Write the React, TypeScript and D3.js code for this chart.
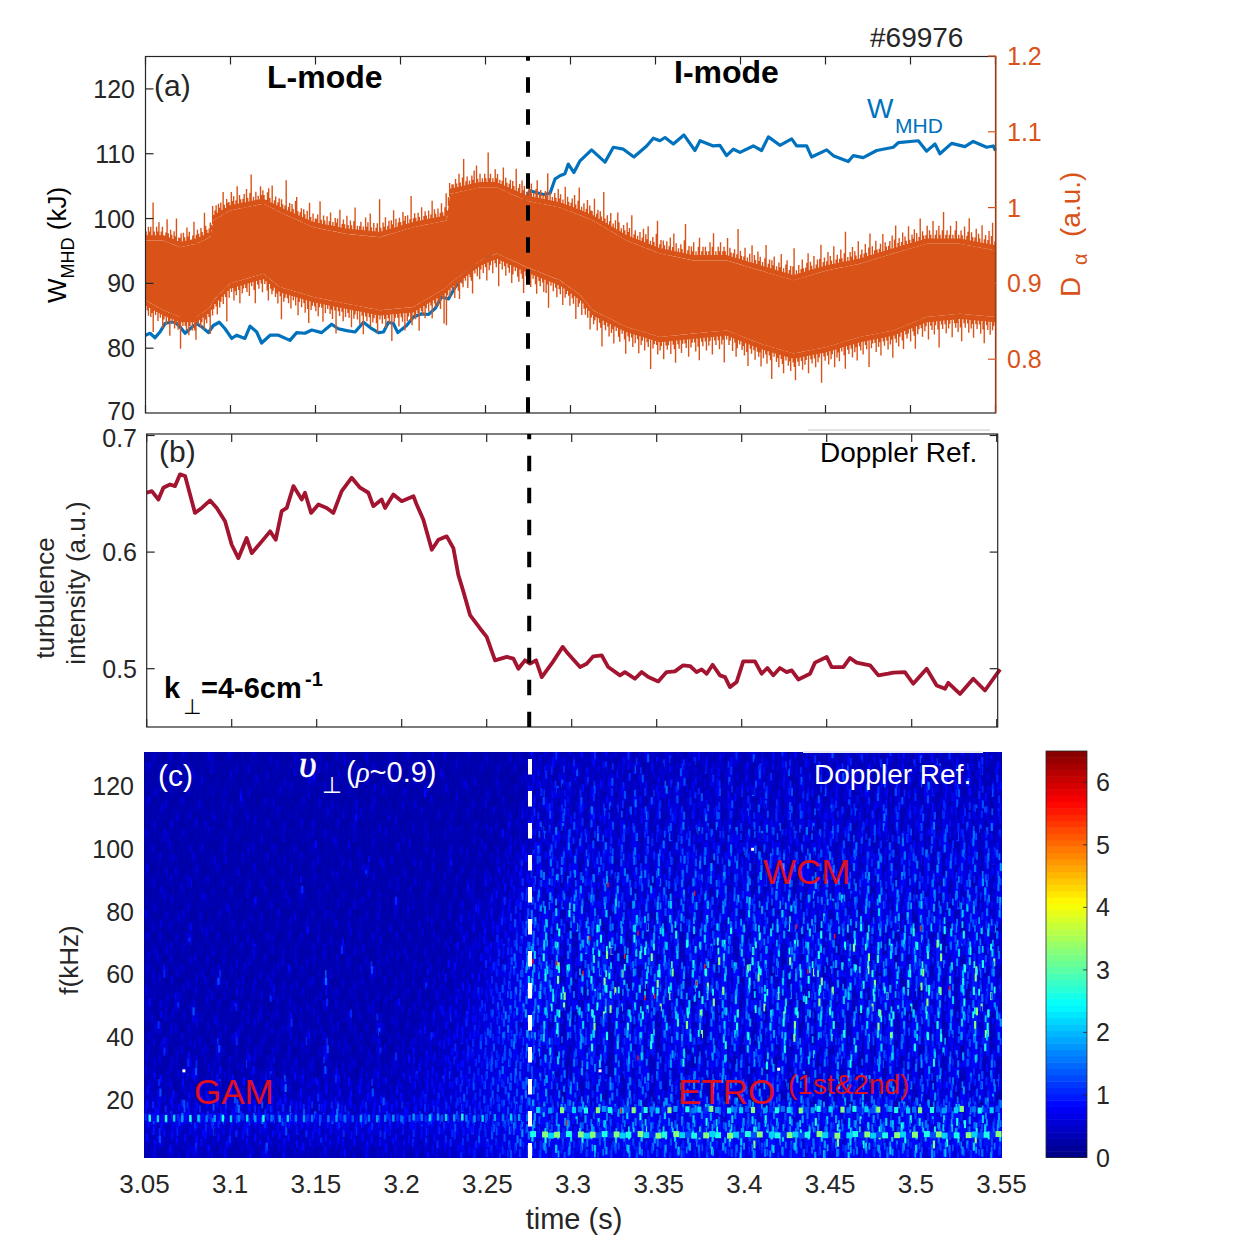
import React from "react";
import * as d3 from "d3";

// ---------- data ----------
const timeTicks = [3.05, 3.1, 3.15, 3.2, 3.25, 3.3, 3.35, 3.4, 3.45, 3.5, 3.55];
const timeLabels = ["3.05", "3.1", "3.15", "3.2", "3.25", "3.3", "3.35", "3.4", "3.45", "3.5", "3.55"];
const wTicks = [70, 80, 90, 100, 110, 120];
const daTicks = [0.8, 0.9, 1, 1.1, 1.2];
const daTickLabels = ["0.8", "0.9", "1", "1.1", "1.2"];
const turbTicks = [0.5, 0.6, 0.7];
const freqTicks = [20, 40, 60, 80, 100, 120];
const barTicks = [0, 1, 2, 3, 4, 5, 6];
const transitionTime = 3.275;

const wmhdT = [3.05,3.0527,3.0556,3.0585,3.0615,3.0644,3.0674,3.0703,3.0733,3.0762,3.0801,3.0831,3.087,3.0899,3.0934,3.0968,3.1007,3.1036,3.1085,3.1115,3.1154,3.1183,3.1233,3.1282,3.135,3.1389,3.1438,3.1478,3.1536,3.1595,3.1634,3.1683,3.1733,3.1782,3.1831,3.187,3.19,3.1929,3.1958,3.1984,3.2036,3.2076,3.2125,3.2164,3.2203,3.2242,3.2282,3.2321,3.237,3.2429,3.2487,3.2517,3.26,3.27,3.2762,3.284,3.288,3.2909,3.2938,3.2967,3.2987,3.302,3.3056,3.3124,3.3203,3.3252,3.3311,3.3373,3.3448,3.3487,3.3526,3.3556,3.3605,3.3667,3.3732,3.3762,3.384,3.3879,3.3918,3.3958,3.3997,3.4075,3.4124,3.4164,3.4232,3.4301,3.433,3.4389,3.4418,3.4507,3.4546,3.4634,3.4663,3.4722,3.4801,3.4899,3.4928,3.5046,3.5095,3.5144,3.5173,3.5242,3.532,3.5369,3.5448,3.5487,3.55];
const wmhdV = [82,82.3,81.6,82.5,83.8,84,84,83.3,82.3,83,83.8,83.3,82.4,83.5,84,83,81.5,82,81.5,83.4,82.5,80.8,82,82,81.2,82.4,82.3,82.8,82.4,83.7,83,82.7,82.5,84,83,82.4,82.5,84,83.8,82.4,83.5,84.8,85.3,85.2,86.1,87.9,87.6,89.4,91.2,92.5,93.3,94,97,101.5,104.3,103.7,103.9,106.1,106.6,106.9,108.4,107.1,108.9,110.6,108.7,111,110.7,109.5,111.2,112.4,112,112.5,111.5,112.9,110.5,112,111.2,111.3,109.7,110.7,110.2,111.2,110.5,112.6,111.3,112.3,111.2,111.2,109.5,110.6,109.7,108.8,109.7,109.4,110.5,111,111.7,112,110.4,111.5,110,111.6,111.1,111.9,111,111.2,110.5];

const daCoreT = [3.05,3.0605,3.0703,3.0801,3.088,3.0899,3.0997,3.1193,3.1291,3.1487,3.1684,3.1879,3.2074,3.2272,3.2291,3.2468,3.2566,3.2742,3.2938,3.3056,3.3132,3.333,3.3526,3.3722,3.3919,3.4115,3.4311,3.4507,3.4703,3.4899,3.5095,3.5291,3.55];
const daCoreHi = [0.9566,0.9566,0.9478,0.9522,0.961,0.9829,0.9961,1.005,0.9939,0.9741,0.9653,0.961,0.974,0.983,1.018,1.0267,1.0267,1.009,1.0,0.99,0.983,0.9566,0.9395,0.9303,0.9303,0.9171,0.904,0.9171,0.9259,0.9395,0.9522,0.9522,0.9434];
const daCoreLo = [0.8776,0.8645,0.8557,0.8557,0.8688,0.8776,0.9,0.9127,0.8952,0.882,0.8732,0.8645,0.8688,0.895,0.9,0.93,0.9395,0.9215,0.904,0.885,0.8645,0.8425,0.8293,0.8338,0.838,0.8206,0.8075,0.8162,0.8293,0.838,0.8557,0.86,0.8557];
const daSpikeUp = "21323192132412311252132132612231321423112512321321632123141231323152132214231251321231421371213121423211342151231231321281231321452123132131521312231621321312412132315123214213213612123121423152131231921324123132513123214231312712321321412321312513213124213612312213214213712312132415213121321823121423121251321231321612314231213241213512312132713121321423121513212314213612131241322151231321821312412131531213214231612312131241325121321471231321312412513121321481231324121351231321241361213241232151321231281321241213151321423121361231324121325121341231371213124212351321412313612312413215123124213812132413215123124213613124212315132123141361231241321521324131261321241321512314213712312412135121321412361321241321512312413612";
const daSpikeDown = "12313261213121421312512132132712123142131351213214231261321241321312813121423125132123141213612312412135123213241271321231412131521312413613212314212513121324127123124131231513213141261231241321351213124123171321241231513213412312612314213125123132412819213121421351231214123612131421312513214123172131241231531213412361231241213512312414271213124123151321241231613214123131521321412371231241325121341213612312413125132141231813212413215123214123612314212315132124136123124132151231241327121321412531213241361231241232513124123712132412351213241236123124132151231241321812312413215132412136123124132512314123171321241325123124132612314213512321412361321241321512314213712312413215123241361231241325123124136123141321";
const spikeHeights = [0, 0.007, 0.012, 0.018, 0.024, 0.03, 0.036, 0.042, 0.046, 0.05];

const turbT = [3.05,3.053,3.0569,3.0598,3.0637,3.0667,3.0696,3.0726,3.0755,3.0784,3.0824,3.0873,3.0912,3.0961,3.1,3.1039,3.1088,3.1118,3.1177,3.1226,3.1259,3.1294,3.1324,3.1363,3.1412,3.1431,3.1467,3.151,3.1559,3.1598,3.1647,3.1706,3.1755,3.1804,3.1833,3.1882,3.1902,3.1951,3.2,3.2069,3.2088,3.2127,3.2177,3.2216,3.2265,3.2304,3.2333,3.2363,3.2402,3.2461,3.25,3.2549,3.2618,3.2657,3.2686,3.2725,3.2755,3.279,3.2824,3.2882,3.2947,3.297,3.3049,3.3088,3.3127,3.3176,3.3215,3.3284,3.3313,3.3372,3.3411,3.3451,3.3509,3.3558,3.3607,3.3656,3.3696,3.3735,3.3764,3.3794,3.3829,3.3872,3.3902,3.3931,3.397,3.4009,3.4078,3.4117,3.4151,3.4186,3.4225,3.4264,3.4294,3.4333,3.4402,3.4431,3.45,3.4529,3.4598,3.4637,3.4676,3.4755,3.4804,3.4862,3.4892,3.496,3.5009,3.5088,3.5147,3.5196,3.5215,3.5284,3.5362,3.5431,3.548,3.552];
const turbV = [0.6509,0.6523,0.6451,0.6552,0.658,0.6566,0.6667,0.6652,0.6494,0.6336,0.6379,0.6443,0.6379,0.6264,0.6063,0.5948,0.6121,0.5991,0.6092,0.6178,0.6106,0.6351,0.6379,0.6566,0.6451,0.6509,0.6336,0.6408,0.6379,0.6336,0.6523,0.6638,0.6552,0.6509,0.6394,0.6451,0.6379,0.6494,0.6437,0.648,0.6408,0.6279,0.602,0.6106,0.6135,0.6034,0.5805,0.5661,0.546,0.5345,0.5273,0.5072,0.5101,0.5086,0.5,0.5072,0.5043,0.5072,0.4928,0.5043,0.5187,0.5144,0.5014,0.5043,0.5106,0.5115,0.5014,0.4943,0.4971,0.4914,0.4971,0.4928,0.4891,0.4971,0.4977,0.5029,0.5023,0.4971,0.4994,0.4957,0.5034,0.4943,0.4928,0.4842,0.4885,0.5063,0.5063,0.4957,0.5006,0.4943,0.5006,0.4971,0.4986,0.4908,0.4957,0.5052,0.5101,0.5014,0.5014,0.5092,0.5052,0.5029,0.4943,0.4957,0.4966,0.4971,0.4871,0.5,0.4856,0.4828,0.4879,0.4784,0.4914,0.4813,0.4914,0.4995];

// spectrogram: one digit per time bin, top row = highest frequency
const baseLevels = [0.25, 0.33, 0.43, 0.53, 0.63, 0.72, 0.8, 0.85, 0.9, 0.95];
const streakLevels = [0.35, 0.6, 0.85, 1.05, 1.3, 1.55, 1.8, 2.15, 2.6, 3.3];
const specLeft = [
"01001010001100100010010001000100110001000100100010100010010001010",
"10010001000100010100001001000110000100100100010001001000100100101",
"00100200110000100010100100012000101001000100011000100101000100011",
"01001001000101000100001010010010001000101001000200100010010100102",
"10010010010001002000110000100101000100100001010010001001010010011",
"00100101000100100100001001000010010210100100001001010010001011021",
"01001000101000100010100100101000100100010010010100010001010102112",
"10020010001001010001000100010011000100101001000100101001001021011",
"01001001010001000110010001002000101000100010100100010100110102121",
"00101000100101001000100100100100010010010100010010020010101112132",
"10010100100010010010010010001001001013001001001010010101010211223",
"01001002001001000101000101001000100100100110010100101001021112132",
"00110010010100100100100100300110010001010010100100101021011221243",
"01001001001001010020010010100100100110010030010101010102112132234",
"10010110010010100101001001001011001001010010100101010211212123324",
"01101001010100101001001010020100101010010101001010101112122232435",
"10100103001010010100110010100101001010110010101011010211121323344",
"01011010010101001020010101001010030110010101010110102112122333435",
"10101001101001010110100101011010101001011010110101021121232324546",
"11030110010110101001011020100101101010410101011011012112123343546",
"01101001101041011010110101011050010110101011010310201211223334457",
"11010110101101001011030110100101101101010101101012112122323444546",
"20110301101010130101001011011030110101101021011102112122333435465",
"11011010410110101102011010101101013010110110101121232132334354546",
"01301101101011011010110130110101101101041010111211212233243445435",
"11011011010110130101101011031011010110110111012132122323344354546",
"10130110111041010111011010110140111011031011121211223233434344535",
"11101103101110110310110111011021011101110131211221223233344445345",
"12011112401121101121130112111041211011121112132222232333344454544",
"11211021211130212111211510212111312121112111221222323334344435455",
"21412112122112241212121211221321212122421122122323232433344345455",
"22212142212222152222122322221222322122224222222323323433334444545",
"34243354243534243345343453434434543234243324233343234343344434354",
"23222322323432232322322423232222332332332323233333334344334445565",
"22412221222122312222212222122322222222223222232323333333444344555",
"12112112312112111211411211211121121112112122121222222323233334444",
];
const specRight = [
"2112311121312112311412131113211212311411213121131141121312113121141211312113121",
"1213121411213112141121311421131214112132113411213112141121341121311241131214112",
"2131141213121421314112131412113214112141312114213112412131141213142113121412113",
"1312413121421314121312514213112412131514112413121412131241321412115312141213142",
"2142132141312413152143124131421314213124131412314123142131421341314213241314213",
"3124142131524131412514132413152413124142131514213241314213151413241314213142413",
"2413152431412415132413142513241514132415241314251324141324251413241514232414152",
"3142514324152314251413251431524132514152413241514253241415231425132415143251413",
"2514325142415324151432514243152415243514251324152431415241324153241425314251432",
"3425152415243514251435241534251426314251543241524351425143524153425142435241534",
"2514352614253415243516241543526142534152436142514352415243615243514261524351426",
"4253615243526142536415243516425361425164253514261534251462534162543516243516425",
"3526142563415263514263514625341652436152463514263516245361524635142635162543615",
"4615263741625374162536471526374152637415263741625364715263741625473615263741526",
"5263718462537164273516473625174362517463527164352716435261743627164352617463526",
"6374251736481526374827163547263518473625174836271546372815463726154738261547362",
"5472836157482637185264738162574836271584736251748362517483625174863251748362715",
"6374825167483925174863725184736285174936271584736251849362718574836291574836271",
"7483615274839261748592637148253974162847351962748536172493857162748395261738495",
"6574928316475829361748592637485162739485162738495162748395162738495162738495261",
"7485926174839527164859372618493572618493527164839526174859362718495362718493562",
"6748395261748592637185493627184593627158493627148593672518496372518493627185493",
"5748392617485936271849536271849362715849367251849362751849362758149362718459362",
"6473825174839261748352617483926174835261749382617483526174938261748352617493826",
"5372816473925174826351748392615473826154738291647382516473928164735281647392816",
"6473815264738152647381526473915264738152647392516473815264739152648381526473915",
"4637251463825174635281463725146382517463528146372514638251746352814637251463825",
"5264731526473152647315264831526473152648315264731526483152647315264831526473152",
"4536251463524163524615342516352461534251635246153425163524615342516352461534251",
"5364253614253641524635142536415263541426354162531426354162534126354162531426354",
"5463516425361542635415263451624536154263541526345162453615426354152634516245361",
"6354265364153624536142653415263541625361452635416253614526354162536145263541625",
"6473564736475364758364753647586437564738564736584756374856473658473647583647536",
"6354736253647536274856374657364857364758463758463647586374657386475364758364756",
"7385647385746375847365847365847368574936857463857649375846937584736958473695847",
"5463746354736453746354637463547364573645736475364736475374657364753647536475364",
];
const gamBand = "38272817362817253628172537162835162725163524152635241635261536352463537264716385263741625374625";
const etroUpper = "3736293758296837492857396285739628574926385729468372958374926837592846379258374";
const etroLower = "8297938297948397829739829748397829738492783974829739278397482973928497382974839";
const hotT = [3.32,3.3705,3.3375,3.3093,3.2762,3.2898,3.3054,3.3297,3.3764,3.4298,3.4522,3.5028,3.5193,3.4366,3.3715,3.3414,3.3472,3.3375,3.2957,3.3277];
const hotF = [88.4,85.7,73,71.4,64,63.5,60.3,65.6,62.4,75.1,72,74.6,55.5,60.8,57.1,52.4,52.9,33.3,12.6,16.5];
const speckT = [3.0727, 3.4045, 3.3155, 3.4197];
const speckF = [29.5, 100, 29.5, 30];

const jetStops = [0, 0.125, 0.375, 0.625, 0.875, 1];
const jetColors = ["#000080", "#0000ff", "#00ffff", "#ffff00", "#ff0000", "#800000"];
const jitterY = [0, 0.55, 0.2, 0.8, 0.35, 0.65];
const jitterX = [0.1, 0.5, 0.3, 0.7, 0.2, 0.6, 0.4];

// ---------- styles and scales ----------
const FONT = "'Liberation Sans', Arial, sans-serif";
const INK = "#262626";
const ORANGE = "#D95319";
const BLUE = "#0072BD";
const CRIMSON = "#A2142F";
const RED = "#E0101E";

const xA = d3.scaleLinear().domain([3.05, 3.55]).range([145.5, 995.5]);
const yW = d3.scaleLinear().domain([70, 125]).range([413, 56.5]);
const yD = d3.scaleLinear().domain([1.2, 0.729]).range([56, 413]);
const xB = d3.scaleLinear().domain([3.05, 3.55]).range([146.7, 996.7]);
const yB = d3.scaleLinear().domain([0.45, 0.7]).range([727, 435.5]);
const xC = d3.scaleLinear().domain([3.05, 3.55]).range([144.5, 1001.5]);
const yC = d3.scaleLinear().domain([1.6, 130.8]).range([1158, 752]);
const yBar = d3.scaleLinear().domain([0, 6.5]).range([1157.5, 751]);
const jet = d3.scaleLinear<string>().domain(jetStops.map((s) => s * 6.5)).range(jetColors).clamp(true);

const coreHi = d3.scaleLinear().domain(daCoreT).range(daCoreHi);
const coreLo = d3.scaleLinear().domain(daCoreT).range(daCoreLo);

const wmhdLine = d3.line<number>().x((_, i) => xA(wmhdT[i])).y((d) => yW(d))(wmhdV) as string;
const turbLine = d3.line<number>().x((_, i) => xB(turbT[i])).y((d) => yB(d))(turbV) as string;
const daArea = d3.area<number>().x((t) => xA(t)).y0((t) => yD(coreLo(t))).y1((t) => yD(coreHi(t)))(daCoreT) as string;

function spikePath(text: string, up: boolean): string {
  const p = d3.path();
  const n = text.length;
  for (let i = 0; i < n; i++) {
    const t = 3.05 + (0.5 * (i + 0.5)) / n;
    const edge = up ? coreHi(t) : coreLo(t);
    const tip = edge + (up ? 1 : -1) * spikeHeights[Number(text[i])];
    p.moveTo(xA(t), yD(edge));
    p.lineTo(xA(t), yD(tip));
  }
  return p.toString();
}

interface Cell { x: number; y: number; w: number; h: number; fill: string; }

function buildSpectrogram(): { base: Cell[]; streak: Cell[] } {
  const base: Cell[] = [];
  const streak: Cell[] = [];
  const df = (130.8 - 1.6) / specLeft.length;
  const addRows = (rows: string[], t0: number, t1: number) => {
    rows.forEach((text, r) => {
      const n = text.length;
      const dt = (t1 - t0) / n;
      const next = rows[Math.min(r + 1, rows.length - 1)];
      for (let i = 0; i < n; i++) {
        const d = Number(text[i]);
        const x0 = xC(t0 + i * dt);
        const w = xC(t0 + (i + 1) * dt) - x0;
        const yTop = yC(130.8 - r * df);
        const h = yC(130.8 - (r + 1) * df) - yTop;
        base.push({ x: x0, y: yTop, w: w + 0.3, h: h + 0.3, fill: jet(baseLevels[d]) });
        const off = (jitterY[(i + r * 2) % jitterY.length] - 0.5) * h;
        const sx = x0 + w * jitterX[(i + r * 3) % jitterX.length];
        streak.push({ x: sx, y: yTop + off + h * 0.15, w: w * 0.36, h: h * 0.7, fill: jet(streakLevels[d]) });
        // a second, weaker streak fills the finer texture between bins (next row's reading)
        const d2 = Math.max(0, Number(next[i] ?? 0) - 1);
        const off2 = (jitterY[(i * 2 + r + 3) % jitterY.length] - 0.5) * h;
        const sx2 = x0 + w * jitterX[(i * 2 + r + 4) % jitterX.length];
        streak.push({ x: sx2, y: yTop + h * 0.5 + off2, w: w * 0.3, h: h * 0.6, fill: jet(streakLevels[d2]) });
      }
    });
  };
  addRows(specLeft, 3.05, transitionTime);
  addRows(specRight, transitionTime, 3.55);
  const addBand = (text: string, t0: number, t1: number, f: number, tall: number, fillShare: number) => {
    const n = text.length;
    const dt = (t1 - t0) / n;
    for (let i = 0; i < n; i++) {
      const x0 = xC(t0 + i * dt);
      const w = xC(t0 + (i + 1) * dt) - x0;
      streak.push({ x: x0, y: yC(f) - tall / 2 + (jitterY[i % jitterY.length] - 0.5) * 2, w: w * fillShare, h: tall, fill: jet(streakLevels[Number(text[i])]) });
    }
  };
  addBand(gamBand, 3.05, transitionTime, 14.3, 7, 0.6);
  addBand(etroUpper, transitionTime, 3.55, 16.9, 6, 0.7);
  addBand(etroLower, transitionTime, 3.55, 8.9, 6, 1);
  return { base, streak };
}
const spec = buildSpectrogram();

const barLevels = d3.range(64);

function Frame(props: { x: any; y0: number; y1: number; x0: number; x1: number; yTicks: number[]; y: any; right?: boolean }) {
  const { x, y0, y1, x0, x1, yTicks, y, right } = props;
  return (
    <g stroke={INK} strokeWidth={1.2} fill="none">
      <rect x={x0} y={y0} width={x1 - x0} height={y1 - y0} stroke={INK} />
      {timeTicks.map((t) => (
        <g key={t}>
          <line x1={x(t)} x2={x(t)} y1={y1} y2={y1 - 8} />
          <line x1={x(t)} x2={x(t)} y1={y0} y2={y0 + 8} />
        </g>
      ))}
      {yTicks.map((v) => (
        <g key={v}>
          <line x1={x0} x2={x0 + 8} y1={y(v)} y2={y(v)} />
          {right && <line x1={x1} x2={x1 - 8} y1={y(v)} y2={y(v)} />}
        </g>
      ))}
    </g>
  );
}

export default function App() {
  return (
    <svg width={1233} height={1242} viewBox="0 0 1233 1242" style={{ position: "absolute", left: 0, top: 0, background: "#fff" }} fontFamily={FONT}>
      <defs>
        <clipPath id="clipC"><rect x={144} y={752} width={858} height={406} /></clipPath>
        <clipPath id="clipA"><rect x={145} y={56} width={851} height={357} /></clipPath>
      </defs>

      {/* panel a */}
      <path d={wmhdLine} fill="none" stroke={BLUE} strokeWidth={3.2} strokeLinejoin="round" />
      <g clipPath="url(#clipA)">
        <path d={daArea} fill={ORANGE} />
        <path d={spikePath(daSpikeUp, true)} stroke={ORANGE} strokeWidth={1.4} fill="none" />
        <path d={spikePath(daSpikeDown, false)} stroke={ORANGE} strokeWidth={1.4} fill="none" />
      </g>
      <Frame x={xA} y0={56.5} y1={413} x0={145.5} x1={995.5} yTicks={wTicks.slice(1)} y={yW} />
      <g stroke={ORANGE} strokeWidth={1.2}>
        <line x1={996} x2={996} y1={56} y2={413} />
        {daTicks.map((v) => <line key={v} x1={996} x2={988} y1={yD(v)} y2={yD(v)} />)}
      </g>
      <line x1={xA(transitionTime)} x2={xA(transitionTime)} y1={56.5} y2={413} stroke="#000" strokeWidth={4} strokeDasharray="15.5 16.5" strokeDashoffset={11.3} />
      {wTicks.map((v) => <text key={v} x={135} y={yW(v) + (v === 70 ? 7 : 9)} textAnchor="end" fontSize={25} fill={INK}>{v}</text>)}
      {daTicks.map((v, i) => <text key={v} x={1007} y={yD(v) + 9} fontSize={25} fill={ORANGE}>{daTickLabels[i]}</text>)}
      <text x={870} y={47} fontSize={28} fill={INK}>#69976</text>
      <text x={154} y={96} fontSize={30} fill={INK}>(a)</text>
      <text x={267} y={88} fontSize={32} fontWeight="bold" fill="#000">L-mode</text>
      <text x={674} y={83} fontSize={32} fontWeight="bold" fill="#000">I-mode</text>
      <text x={867} y={118} fontSize={28} fill={BLUE}>W</text>
      <text x={895} y={133} fontSize={21} fill={BLUE}>MHD</text>
      <g transform="translate(66,303) rotate(-90)" fill="#000">
        <text fontSize={26}>W<tspan fontSize={18} dy={8}>MHD</tspan><tspan dy={-8}> (kJ)</tspan></text>
      </g>
      <g transform="translate(1080,297) rotate(-90)" fill={ORANGE}>
        <text fontSize={28}>D</text>
        <text x={32} y={7} fontSize={20}>α</text>
        <text x={60} fontSize={28}>(a.u.)</text>
      </g>

      {/* panel b */}
      <path d={turbLine} fill="none" stroke={CRIMSON} strokeWidth={3.8} strokeLinejoin="round" />
      <Frame x={xB} y0={434} y1={727} x0={146.7} x1={997.7} yTicks={turbTicks} y={yB} right />
      <line x1={808} x2={990} y1={430} y2={430} stroke="#e2e2e2" strokeWidth={2} />
      <line x1={xB(transitionTime)} x2={xB(transitionTime)} y1={434} y2={727} stroke="#000" strokeWidth={4} strokeDasharray="15.5 16.5" strokeDashoffset={10.3} />
      {turbTicks.map((v) => <text key={v} x={137} y={yB(v) + (v === 0.7 ? 11 : 9)} textAnchor="end" fontSize={25} fill={INK}>{v.toFixed(1)}</text>)}
      <text x={159} y={462} fontSize={30} fill={INK}>(b)</text>
      <text x={820} y={462} fontSize={28} fill="#000">Doppler Ref.</text>
      <text x={164} y={698} fontSize={29} fontWeight="bold" fill="#000">k</text>
      <text x={183} y={714} fontSize={21} fill="#000" fontFamily="'DejaVu Sans'">⊥</text>
      <text x={201} y={698} fontSize={29} fontWeight="bold" fill="#000">=4-6cm</text>
      <text x={305} y={686} fontSize={20} fontWeight="bold" fill="#000">-1</text>
      <g fill={INK} fontSize={26} textAnchor="middle">
        <text transform="translate(54,598) rotate(-90)">turbulence</text>
        <text transform="translate(85,583) rotate(-90)">intensity (a.u.)</text>
      </g>

      {/* panel c */}
      <g clipPath="url(#clipC)">
        <rect x={144} y={752} width={858} height={406} fill="#000098" />
        {spec.base.map((c, i) => <rect key={i} x={c.x} y={c.y} width={c.w} height={c.h} fill={c.fill} />)}
        {spec.streak.map((c, i) => <rect key={i} x={c.x} y={c.y} width={c.w} height={c.h} fill={c.fill} />)}
        {hotT.map((t, i) => <rect key={i} x={xC(t)} y={yC(hotF[i]) - 3} width={1.5} height={5} fill="#e01818" />)}
      </g>
      {speckT.map((t, i) => <rect key={i} x={xC(t) - 1} y={yC(speckF[i]) - 1} width={3} height={3} fill="#fff" />)}
      <line x1={803} x2={983} y1={752} y2={752} stroke="#e8e8f4" strokeWidth={2} />
      <line x1={530} x2={530} y1={752} y2={1158} stroke="#fff" strokeWidth={4} strokeDasharray="15.5 16.5" strokeDashoffset={25} />
      <text x={158} y={786} fontSize={30} fill="#fff">(c)</text>
      <text x={299} y={777} fontSize={38} fontStyle="italic" fill="#fff" stroke="#fff" strokeWidth={0.6} fontFamily="'Liberation Serif'">υ</text>
      <text x={322} y={793} fontSize={23} fill="#fff" fontFamily="'DejaVu Sans'">⊥</text>
      <text x={346} y={782} fontSize={29} fill="#fff">(<tspan fontStyle="italic" fontFamily="'Liberation Serif'">ρ</tspan>~0.9)</text>
      <text x={814} y={784} fontSize={28} fill="#fff">Doppler Ref.</text>
      <text x={763} y={884} fontSize={35} fill={RED}>WCM</text>
      <text x={194} y={1104} fontSize={35} fill={RED}>GAM</text>
      <text x={678} y={1104} fontSize={35} fill={RED}>ETRO</text>
      <text x={788} y={1094} fontSize={28} fill={RED}>(1st&amp;2nd)</text>
      {freqTicks.map((f) => <text key={f} x={134} y={yC(f) + 9} textAnchor="end" fontSize={25} fill={INK}>{f}</text>)}
      {timeTicks.map((t, i) => <text key={t} x={xC(t)} y={1193} textAnchor="middle" fontSize={26} fill={INK}>{timeLabels[i]}</text>)}
      <text transform="translate(78,960) rotate(-90)" textAnchor="middle" fontSize={26} fill={INK}>f(kHz)</text>
      <text x={574} y={1229} textAnchor="middle" fontSize={29} fill={INK}>time (s)</text>

      {/* colour bar */}
      {barLevels.map((k) => {
        const y1 = yBar((k / 64) * 6.5);
        const y2 = yBar(((k + 1) / 64) * 6.5);
        return <rect key={k} x={1046} y={y2} width={41} height={y1 - y2 + 0.5} fill={jet(((k + 0.5) / 64) * 6.5)} />;
      })}
      <rect x={1046} y={751} width={41} height={406.5} fill="none" stroke={INK} strokeWidth={0.8} />
      {barTicks.map((v) => <line key={v} x1={1087} x2={1083} y1={yBar(v)} y2={yBar(v)} stroke={INK} strokeWidth={0.8} />)}
      {barTicks.map((v) => <text key={v} x={1096} y={yBar(v) + 9} fontSize={25} fill={INK}>{v}</text>)}
    </svg>
  );
}
